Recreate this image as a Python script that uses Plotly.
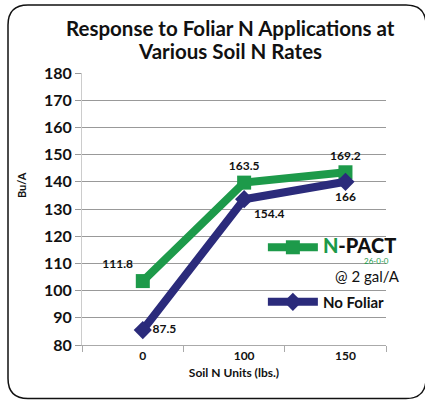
"""Response to Foliar N Applications at Various Soil N Rates."""

import plotly.graph_objects as go

# Dados
SOIL_N = ["0", "100", "150"]
NPACT = [103.5, 139.7, 143.5]
NO_FOLIAR = [85.5, 133.6, 140.0]
NPACT_LABELS = ["111.8", "163.5", "169.2"]
NO_FOLIAR_LABELS = ["87.5", "154.4", "166"]

GREEN = "#1d9a4a"
NAVY = "#2b2b7b"
FONT = "Lato"

x_idx = list(range(len(SOIL_N)))

fig = go.Figure()
fig.add_trace(
    go.Scatter(
        x=x_idx,
        y=NPACT,
        name=(
            f"<span style='color:{GREEN};font-size:20px;font-weight:900'>N</span>"
            "<span style='font-size:20px;font-weight:900'>-PACT</span>"
        ),
        mode="lines+markers+text",
        line=dict(color=GREEN, width=8),
        marker=dict(symbol="square", size=14, color=GREEN),
        text=NPACT_LABELS,
        texttemplate="<b>%{text}</b>",
        textposition=["top left", "top center", "top center"],
        textfont=dict(family=FONT, size=12, color="#111"),
        legendgroup="a",
    )
)
fig.add_trace(
    go.Scatter(
        x=x_idx,
        y=NO_FOLIAR,
        name="<b>No Foliar</b>",
        mode="lines+markers+text",
        line=dict(color=NAVY, width=8),
        marker=dict(symbol="diamond", size=14, color=NAVY),
        text=NO_FOLIAR_LABELS,
        texttemplate="<b>%{text}</b>",
        textposition=["middle right", "bottom right", "bottom center"],
        textfont=dict(family=FONT, size=12, color="#111"),
        legendgroup="b",
    )
)

# moldura arredondada em volta da figura
x0, x1 = -74 / 304, 344 / 304
y0, y1 = -53.5 / 272, 340 / 272
rx, ry = 20 / 304, 20 / 272
frame = (
    f"M {x0 + rx},{y1} L {x1 - rx},{y1} Q {x1},{y1} {x1},{y1 - ry} "
    f"L {x1},{y0 + ry} Q {x1},{y0} {x1 - rx},{y0} "
    f"L {x0 + rx},{y0} Q {x0},{y0} {x0},{y0 + ry} "
    f"L {x0},{y1 - ry} Q {x0},{y1} {x0 + rx},{y1} Z"
)

fig.update_layout(
    width=425,
    height=400,
    margin=dict(l=82, r=39, t=73, b=55),
    paper_bgcolor="white",
    plot_bgcolor="white",
    font=dict(family=FONT, color="#111"),
    xaxis=dict(
        range=[-0.6, 2.4],
        tickmode="array",
        tickvals=x_idx,
        ticktext=[f"<b>{s}</b>" for s in SOIL_N],
        ticks="",
        showgrid=False,
        showline=True,
        linecolor="#aaa",
        linewidth=1,
        zeroline=False,
        tickfont=dict(size=12),
        minor=dict(tick0=0.4, dtick=1, ticks="outside", ticklen=6, tickcolor="#aaa", showgrid=False),
        title=dict(text="<b>Soil N Units (lbs.)</b>", font=dict(size=12), standoff=6),
    ),
    yaxis=dict(
        range=[80, 180],
        dtick=10,
        ticks="outside",
        ticklen=6,
        tickcolor="#999",
        showgrid=True,
        gridcolor="#999",
        gridwidth=1,
        showline=True,
        linecolor="#ccc",
        zeroline=False,
        tickfont=dict(size=16),
        tickformat="d",
        tickprefix="<b>",
        ticksuffix="</b>",
    ),
    legend=dict(
        x=0.595,
        y=0.419,
        xanchor="left",
        yanchor="top",
        bgcolor="rgba(0,0,0,0)",
        font=dict(family=FONT, size=15, color="#111"),
        traceorder="grouped",
        tracegroupgap=32,
        itemwidth=50,
    ),
    shapes=[
        dict(type="path", path=frame, xref="paper", yref="paper",
             line=dict(color="#111", width=1.5), layer="above")
    ],
    annotations=[
        dict(text="<b>Response to Foliar N Applications at</b>", x=0.487, y=1.165,
             xref="paper", yref="paper", xanchor="center", yanchor="middle",
             showarrow=False, font=dict(size=20.5, color="#111")),
        dict(text="<b>Various Soil N Rates</b>", x=0.487, y=1.081,
             xref="paper", yref="paper", xanchor="center", yanchor="middle",
             showarrow=False, font=dict(size=20.5, color="#111")),
        dict(text="<b>Bu/A</b>", x=-0.2007, y=0.588, textangle=-90,
             xref="paper", yref="paper", xanchor="center", yanchor="middle",
             showarrow=False, font=dict(size=11, color="#111")),
        dict(text="26-0-0", x=1.016, y=0.309, xref="paper", yref="paper",
             xanchor="right", yanchor="middle", showarrow=False,
             font=dict(size=8, color=GREEN)),
        dict(text="@ 2 gal/A", x=0.9375, y=0.252, xref="paper", yref="paper",
             xanchor="center", yanchor="middle", showarrow=False,
             font=dict(size=15, color="#111")),
    ],
)

fig.write_html(
    "out.html",
    config={"displayModeBar": False},
    post_script="document.body.style.margin='0';document.body.style.overflow='hidden';",
)
